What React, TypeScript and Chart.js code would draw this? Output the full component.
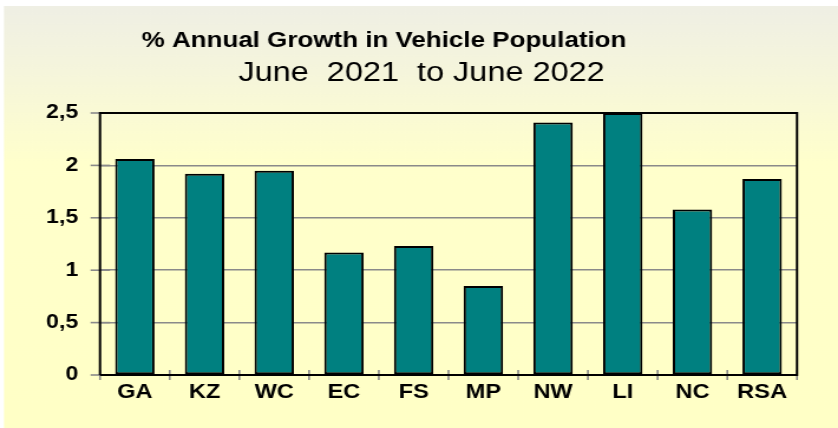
import React, { useEffect, useRef } from "react";
import { Chart, registerables } from "chart.js";

Chart.register(...registerables);

const categories = ["GA", "KZ", "WC", "EC", "FS", "MP", "NW", "LI", "NC", "RSA"];
const growthValues = [2.06, 1.92, 1.95, 1.17, 1.23, 0.85, 2.41, 2.5, 1.58, 1.87];
const titleLine1 = "% Annual Growth in Vehicle Population";
const titleLine2 = "June  2021  to June 2022";
const yMin = 0;
const yMax = 2.5;
const yStep = 0.25;
const yMajorStep = 0.5;

const W = 710;
const H = 428;
const SX = 838 / W;

const FONT = "'Liberation Sans', Arial, sans-serif";

const decorPlugin = {
  id: "decor",
  beforeDraw(chart: any) {
    const ctx = chart.ctx;
    ctx.save();
    ctx.fillStyle = "#ffffff";
    ctx.fillRect(0, 0, W, H);
    const g = ctx.createLinearGradient(0, 6, 0, H);
    g.addColorStop(0, "#EFEFE4");
    g.addColorStop(0.15, "#F5F5DC");
    g.addColorStop(0.37, "#FFFFCC");
    g.addColorStop(1, "#FFFFC6");
    ctx.fillStyle = g;
    ctx.fillRect(4 / SX, 6, W, H);
    ctx.restore();
  },
  beforeDatasetsDraw(chart: any) {
    const ctx = chart.ctx;
    const { left, right, top, bottom } = chart.chartArea;
    const y = chart.scales.y;
    const x = chart.scales.x;
    ctx.save();
    ctx.strokeStyle = "#8a8a8a";
    ctx.lineWidth = 1.6;
    y.ticks.forEach((t: any) => {
      const major = Math.abs(t.value / yMajorStep - Math.round(t.value / yMajorStep)) < 1e-6;
      const py = y.getPixelForValue(t.value);
      ctx.beginPath();
      if (major) {
        ctx.moveTo(left - 8, py);
        ctx.lineTo(left + 8.5, py);
      } else {
        ctx.moveTo(left - 5, py);
        ctx.lineTo(left + 5.5, py);
      }
      ctx.stroke();
    });
    for (let i = 0; i <= categories.length; i++) {
      const px = x.getPixelForValue(i - 0.5);
      ctx.beginPath();
      ctx.moveTo(px, bottom - 5);
      ctx.lineTo(px, bottom + 5);
      ctx.stroke();
    }
    ctx.strokeStyle = "#000000";
    ctx.lineWidth = 2;
    ctx.beginPath();
    ctx.moveTo(left, bottom);
    ctx.lineTo(left, top);
    ctx.lineTo(right, top);
    ctx.lineTo(right, bottom);
    ctx.lineTo(left, bottom);
    ctx.stroke();
    ctx.restore();
  },
  afterDraw(chart: any) {
    const ctx = chart.ctx;
    ctx.save();
    ctx.fillStyle = "#000000";
    ctx.textAlign = "center";
    ctx.textBaseline = "alphabetic";
    ctx.font = `bold 22px ${FONT}`;
    ctx.fillText(titleLine1, 384 / SX, 46.5);
    ctx.font = `normal 27.5px ${FONT}`;
    ctx.fillText(titleLine2, 421.5 / SX, 81);
    ctx.restore();
  },
};

export default function App() {
  const ref = useRef<HTMLCanvasElement | null>(null);
  useEffect(() => {
    if (!ref.current) return;
    const chart = new Chart(ref.current, {
      type: "bar",
      data: {
        labels: categories,
        datasets: [
          {
            data: growthValues,
            backgroundColor: "#008080",
            borderColor: "#000000",
            borderWidth: 2,
            borderSkipped: false,
            categoryPercentage: 1,
            barPercentage: 0.565,
          },
        ],
      },
      options: {
        responsive: false,
        animation: false,
        devicePixelRatio: 1,
        layout: { padding: { top: 113, right: W - 797 / SX, bottom: 0, left: 0 } },
        plugins: {
          legend: { display: false },
          title: { display: false },
          tooltip: { enabled: false },
        },
        scales: {
          x: {
            type: "category",
            offset: true,
            grid: { display: false, drawTicks: false },
            border: { display: false },
            ticks: {
              color: "#000000",
              padding: 5,
              maxRotation: 0,
              font: { family: FONT, size: 20, weight: "bold" },
            },
            afterFit(scale: any) {
              scale.height = H - 375;
            },
          },
          y: {
            min: yMin,
            max: yMax,
            grid: {
              drawTicks: false,
              lineWidth: 1.6,
              color: (c: any) => {
                const v = c.tick ? c.tick.value : 0;
                const major = Math.abs(v / yMajorStep - Math.round(v / yMajorStep)) < 1e-6;
                return major ? "#8a8a8a" : "rgba(0,0,0,0)";
              },
            },
            border: { display: false },
            ticks: {
              stepSize: yStep,
              color: "#000000",
              padding: 18.5,
              font: { family: FONT, size: 19.5, weight: "bold" },
              callback: (v: any) => {
                const n = Number(v);
                const major = Math.abs(n / yMajorStep - Math.round(n / yMajorStep)) < 1e-6;
                return major ? String(n).replace(".", ",") : "";
              },
            },
            afterFit(scale: any) {
              scale.width = 100 / SX;
            },
          },
        },
      },
      plugins: [decorPlugin],
    });
    return () => chart.destroy();
  }, []);
  return (
    <div
      style={{
        position: "absolute",
        left: 0,
        top: 0,
        width: W,
        height: H,
        transform: `scaleX(${SX})`,
        transformOrigin: "0 0",
      }}
    >
      <canvas ref={ref} width={W} height={H} style={{ display: "block" }} />
    </div>
  );
}
